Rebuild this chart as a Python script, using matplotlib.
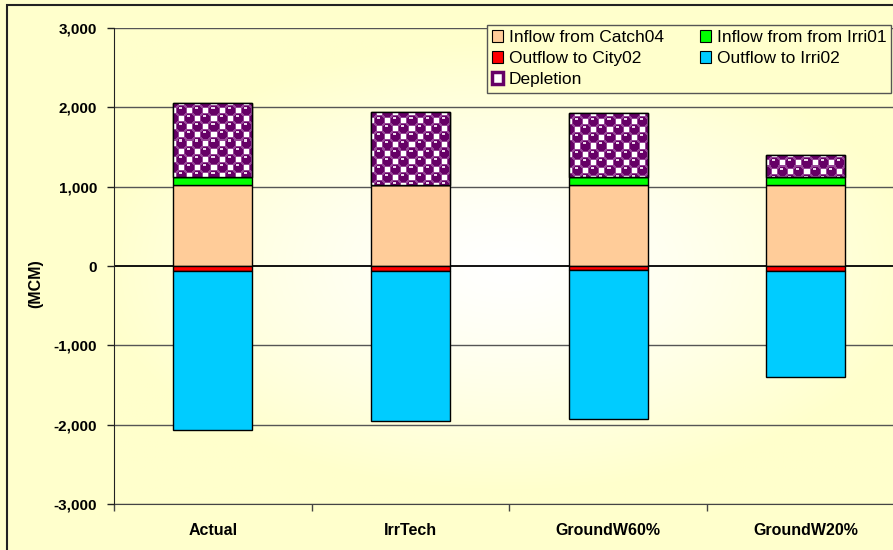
import numpy as np
import matplotlib
matplotlib.use("Agg")
import matplotlib.pyplot as plt
from matplotlib.patches import Rectangle, Patch

plt.rcParams['font.family'] = ['Liberation Sans', 'DejaVu Sans']

# --- data (MCM) ---
scenarios = ["Actual", "IrrTech", "GroundW60%", "GroundW20%"]
inflow_catch04 = [1020, 1025, 1025, 1025]
inflow_irri01 = [105, 0, 100, 95]
depletion = [935, 920, 800, 280]
outflow_city02 = [-57, -62, -55, -57]
outflow_irri02 = [-2008, -1888, -1873, -1343]

y_ticks = [-3000, -2000, -1000, 0, 1000, 2000, 3000]
y_labels = [f"{v:,}" for v in y_ticks]

# --- colours ---
BG = "#FFFFCC"
C_CATCH = "#FFCC99"
C_IRRI01 = "#00FF00"
C_CITY = "#FF0000"
C_IRRI02 = "#00CCFF"
C_DEPL = "#660066"

W, H = 893, 550
fig = plt.figure(figsize=(W / 100, H / 100), dpi=100, facecolor=BG)

# plot area runs past the right edge, as in the original
ax_l, ax_b, ax_t = 114, 46, 522
ax_w = 4 * 197.7
ax = fig.add_axes([ax_l / W, ax_b / H, ax_w / W, (ax_t - ax_b) / H])
ax.set_xlim(0, len(scenarios))
ax.set_ylim(-3000, 3000)

# radial white-to-yellow gradient in the plot area
gy, gx = np.mgrid[-1:1:300j, -1:1:300j]
r = np.clip(np.sqrt(gx ** 2 + (gy * 1.1) ** 2) / 1.05, 0, 1) ** 1.3
yellow = np.array([255, 255, 204]) / 255
white = np.array([1.0, 1.0, 1.0])
grad = white[None, None, :] * (1 - r[..., None]) + yellow[None, None, :] * r[..., None]
ax.imshow(grad, extent=[0, 1, 0, 1], transform=ax.transAxes, aspect='auto', zorder=0)

for v in y_ticks:
    if v == 0:
        ax.axhline(v, color="black", lw=1.3, zorder=1)
    else:
        ax.axhline(v, color="#555555", lw=1.0, zorder=1)

x = np.arange(len(scenarios)) + 0.5
bw = 0.4
kw = dict(width=bw, edgecolor="black", linewidth=1.0, zorder=3)
ax.bar(x, inflow_catch04, color=C_CATCH, **kw)
ax.bar(x, inflow_irri01, bottom=inflow_catch04, color=C_IRRI01, **kw)
base = np.array(inflow_catch04) + np.array(inflow_irri01)
depl_bars = ax.bar(x, depletion, bottom=base, color=C_DEPL, **kw)
ax.bar(x, outflow_city02, color=C_CITY, **kw)
ax.bar(x, outflow_irri02, bottom=outflow_city02, color=C_IRRI02, **kw)


def sphere_texture(h, w):
    # staggered purple spheres on white, like the Excel pattern fill
    yy, xx = np.mgrid[0:h, 0:w].astype(float)
    img = np.ones((h, w, 3))
    purple = np.array([102, 0, 102]) / 255
    rim = np.array([150, 70, 150]) / 255
    light = np.array([235, 215, 235]) / 255
    for ox, oy in [(0, 0), (8, 8)]:
        dx = ((xx - ox + 8) % 16) - 8
        dy = ((yy - oy + 8) % 16) - 8
        d = np.sqrt(dx ** 2 + dy ** 2)
        img[d < 5.9] = rim
        img[d < 5.0] = purple
        hl = np.sqrt((dx + 1.0) ** 2 + (dy + 2.5) ** 2) < 1.3
        img[hl] = light
    return img


fig.canvas.draw()
for p in depl_bars:
    x0, y0, pw, ph = p.get_x(), p.get_y(), p.get_width(), p.get_height()
    (px0, py0), (px1, py1) = ax.transData.transform([(x0, y0), (x0 + pw, y0 + ph)])
    tw, th = max(int(abs(px1 - px0)), 1), max(int(abs(py1 - py0)), 1)
    im = ax.imshow(sphere_texture(th, tw), extent=[x0, x0 + pw, y0, y0 + ph],
                   aspect='auto', zorder=3.5, interpolation='nearest')
    im.set_clip_path(p)
    ax.add_patch(Rectangle((x0, y0), pw, ph, fill=False, edgecolor="black",
                           lw=1.0, zorder=4))
ax.set_xlim(0, len(scenarios))
ax.set_ylim(-3000, 3000)

# axes styling
for s in ["top", "right"]:
    ax.spines[s].set_visible(False)
ax.spines["left"].set_color("#222222")
ax.spines["bottom"].set_color("#444444")
ax.spines["left"].set_zorder(5)
ax.set_yticks(y_ticks)
ax.set_yticklabels(y_labels, fontsize=11, fontweight="bold")
ax.tick_params(axis="y", length=5, width=1, pad=7, color="#222222")
ax.set_xticks(np.arange(len(scenarios) + 1))
ax.set_xticklabels([])
ax.tick_params(axis="x", which="major", length=5, width=1, color="#444444")
ax.set_xticks(x, minor=True)
ax.set_xticklabels(scenarios, minor=True, fontsize=11.5, fontweight="bold")
ax.tick_params(axis="x", which="minor", length=0, pad=14)

fig.text(36 / W, 266 / H, "(MCM)", rotation=90, ha="center", va="center",
         fontsize=11.5, fontweight="bold")

# legend (column-major order)
handles = [
    Patch(facecolor=C_CATCH, edgecolor="black", lw=0.8),
    Patch(facecolor=C_CITY, edgecolor="black", lw=0.8),
    Patch(facecolor="white", edgecolor=C_DEPL, lw=2.5),
    Patch(facecolor=C_IRRI01, edgecolor="black", lw=0.8),
    Patch(facecolor=C_IRRI02, edgecolor="black", lw=0.8),
]
labels = ["Inflow from Catch04", "Outflow to City02", "Depletion",
          "Inflow from from Irri01", "Outflow to Irri02"]
leg = fig.legend(handles, labels, loc="upper left",
                 bbox_to_anchor=(487 / W, 1 - 25 / H), ncol=2, fontsize=12.5,
                 frameon=True, fancybox=False, facecolor=BG, edgecolor="#555555",
                 framealpha=1, handlelength=0.65, handleheight=0.65,
                 handletextpad=0.3, labelspacing=0.35, columnspacing=2.1,
                 borderpad=0.3, borderaxespad=0)
leg.get_frame().set_linewidth(1.0)

# outer chart border
fig.patches.append(Rectangle((7 / W, -0.1), 1.2, 1 - 5 / H + 0.1, transform=fig.transFigure,
                             fill=False, edgecolor="#222222", lw=1.5))

fig.savefig("out.png", dpi=100, facecolor=BG)
